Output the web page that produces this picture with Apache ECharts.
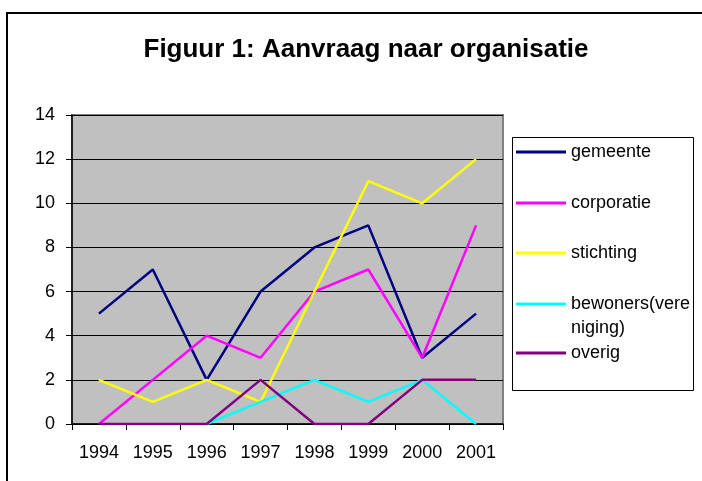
<!DOCTYPE html>
<html>
<head>
<meta charset="utf-8">
<title>Figuur 1</title>
<script src="https://cdn.jsdelivr.net/npm/echarts@6/dist/echarts.min.js"></script>
<style>
  html, body { margin: 0; padding: 0; background: #fff; }
  #chart { width: 702px; height: 481px; }
</style>
</head>
<body>
<div id="chart"></div>
<script>
const years = ['1994', '1995', '1996', '1997', '1998', '1999', '2000', '2001']
const gemeente = [5, 7, 2, 6, 8, 9, 3, 5]
const corporatie = [0, 2, 4, 3, 6, 7, 3, 9]
const stichting = [2, 1, 2, 1, 6, 11, 10, 12]
const bewoners = [null, null, 0, 1, 2, 1, 2, 0]
const overig = [0, 0, 0, 2, 0, 0, 2, 2]

const names = ['gemeente', 'corporatie', 'stichting', 'bewoners(vere\nniging)', 'overig']
const colors = ['#000080', '#FF00FF', '#FFFF00', '#00FFFF', '#800080']
const values = [gemeente, corporatie, stichting, bewoners, overig]

const font = "'Liberation Sans', Arial, sans-serif"

// one small legend per entry so they sit like the original boxed legend
const legendTops = [142, 193, 243, 268, 343]
const legends = names.map((name, i) => {
  const multi = name.indexOf('\n') >= 0
  return {
    data: [name],
    left: 516,
    top: legendTops[i],
    padding: 0,
    icon: 'rect',
    itemWidth: 50,
    itemHeight: 3,
    selectedMode: false,
    // empty first line keeps the icon level with the first text line
    formatter: n => (multi ? '\n' + n : n),
    textStyle: { fontFamily: font, fontSize: 18, color: '#000', lineHeight: multi ? 24 : 20 }
  }
})

const option = {
  backgroundColor: '#fff',
  animation: false,
  title: {
    text: 'Figuur 1: Aanvraag naar organisatie',
    left: 361,
    top: 32,
    textAlign: 'center',
    textStyle: { fontFamily: font, fontSize: 26, fontWeight: 'bold', color: '#000' }
  },
  graphic: [
    {
      type: 'rect',
      shape: { x: 7, y: 13, width: 800, height: 600 },
      style: { fill: 'none', stroke: '#000', lineWidth: 2 },
      silent: true
    },
    {
      type: 'rect',
      shape: { x: 512.5, y: 137.5, width: 181, height: 253 },
      style: { fill: '#fff', stroke: '#000', lineWidth: 1 },
      silent: true,
      z: -1
    }
  ],
  legend: legends,
  grid: {
    left: 72,
    right: 199,
    top: 115,
    bottom: 57,
    show: true,
    backgroundColor: '#C0C0C0',
    borderColor: '#808080',
    borderWidth: 2
  },
  xAxis: {
    type: 'category',
    data: years,
    boundaryGap: true,
    axisLine: { lineStyle: { color: '#000', width: 1.5 } },
    axisTick: { show: true, length: 6, lineStyle: { color: '#000' } },
    axisLabel: { fontFamily: font, fontSize: 18, color: '#000', margin: 20 },
    splitLine: { show: false }
  },
  yAxis: {
    type: 'value',
    min: 0,
    max: 14,
    interval: 2,
    axisLine: { show: true, lineStyle: { color: '#000', width: 1.5 } },
    axisTick: { show: true, length: 6, lineStyle: { color: '#000' } },
    axisLabel: { fontFamily: font, fontSize: 18, color: '#000', margin: 17 },
    splitLine: { show: true, lineStyle: { color: '#000', width: 1 } }
  },
  series: names.map((name, i) => ({
    name,
    type: 'line',
    data: values[i],
    symbol: 'none',
    color: colors[i],
    lineStyle: { color: colors[i], width: 2.5 }
  }))
}

const chart = echarts.init(document.getElementById('chart'), null, { renderer: 'canvas' })
chart.setOption(option)
</script>
</body>
</html>
